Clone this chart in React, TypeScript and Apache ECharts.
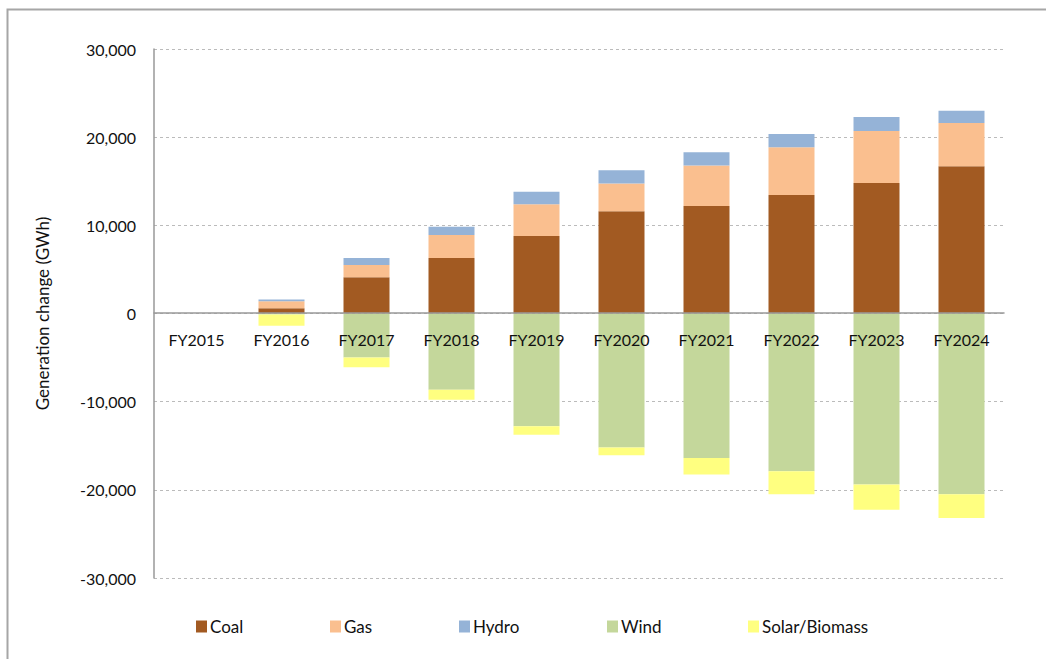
import React, { useEffect, useRef } from "react";
import * as echarts from "echarts";

const categories = ["FY2015", "FY2016", "FY2017", "FY2018", "FY2019", "FY2020", "FY2021", "FY2022", "FY2023", "FY2024"];
const coal = [0, 600, 4100, 6300, 8800, 11600, 12200, 13450, 14800, 16700];
const gas = [0, 800, 1400, 2600, 3600, 3150, 4600, 5400, 5900, 4900];
const hydro = [0, 200, 800, 950, 1400, 1500, 1500, 1500, 1600, 1400];
const wind = [0, -100, -5000, -8640, -12800, -15200, -16400, -17900, -19400, -20500];
const solarBiomass = [0, -1300, -1100, -1140, -950, -870, -1850, -2600, -2850, -2700];
const yTicks = { min: -30000, max: 30000, interval: 10000 };

const seriesDefs = [
  { name: "Coal", data: coal, color: "#A25A22" },
  { name: "Gas", data: gas, color: "#FABF8F" },
  { name: "Hydro", data: hydro, color: "#95B3D7" },
  { name: "Wind", data: wind, color: "#C4D79B" },
  { name: "Solar/Biomass", data: solarBiomass, color: "#FFFF80" },
];

const legendLefts = [196, 330, 459, 607, 748];
const FONT = "Lato, 'Open Sans', sans-serif";

export default function App() {
  const ref = useRef<HTMLDivElement>(null);
  useEffect(() => {
    if (!ref.current) return;
    const chart = echarts.init(ref.current, undefined, { renderer: "svg" });
    chart.setOption({
      animation: false,
      backgroundColor: "#fff",
      textStyle: { fontFamily: FONT },
      grid: { left: 154, right: 42, top: 49, bottom: 81, containLabel: false },
      legend: seriesDefs.map((s, i) => ({
        data: [s.name],
        left: legendLefts[i],
        top: 618,
        padding: 0,
        icon: "rect",
        itemWidth: 11,
        itemHeight: 12,
        itemGap: 4,
        textStyle: { fontFamily: FONT, fontSize: 17, color: "#111", padding: [0, 0, 0, -2] },
        selectedMode: false,
      })),
      xAxis: {
        type: "category",
        data: categories,
        z: 10,
        offset: -265,
        axisLine: { onZero: false, lineStyle: { color: "#999", width: 1.5 } },
        axisTick: { show: false },
        axisLabel: { fontSize: 16, color: "#111", margin: 18, fontFamily: FONT },
        splitLine: { show: false },
      },
      yAxis: {
        type: "value",
        min: yTicks.min,
        max: yTicks.max,
        interval: yTicks.interval,
        name: "Generation change (GWh)",
        nameLocation: "middle",
        nameRotate: 90,
        nameGap: 103,
        nameTextStyle: { fontSize: 17, color: "#111", fontFamily: FONT },
        axisLine: { show: true, lineStyle: { color: "#999", width: 1.5 } },
        axisTick: { show: false },
        axisLabel: {
          fontSize: 16,
          color: "#111",
          margin: 18,
          fontFamily: FONT,
          formatter: (v: number) => (v < 0 ? "-" : "") + Math.abs(v).toLocaleString("en-US"),
        },
        splitLine: { show: true, lineStyle: { color: "#BBBBBB", type: [3, 3], width: 1 } },
      },
      series: seriesDefs.map((s) => ({
        name: s.name,
        type: "bar",
        stack: "total",
        data: s.data,
        barWidth: 46,
        itemStyle: { color: s.color },
      })),
      graphic: [
        {
          type: "rect",
          shape: { x: 7.5, y: 9.5, width: 1100, height: 700 },
          style: { fill: "none", stroke: "#A6A6A6", lineWidth: 2 },
          silent: true,
        },
      ],
    });
    return () => chart.dispose();
  }, []);
  return (
    <div
      ref={ref}
      style={{ position: "fixed", left: 0, top: 0, width: 1046, height: 659 }}
    />
  );
}
